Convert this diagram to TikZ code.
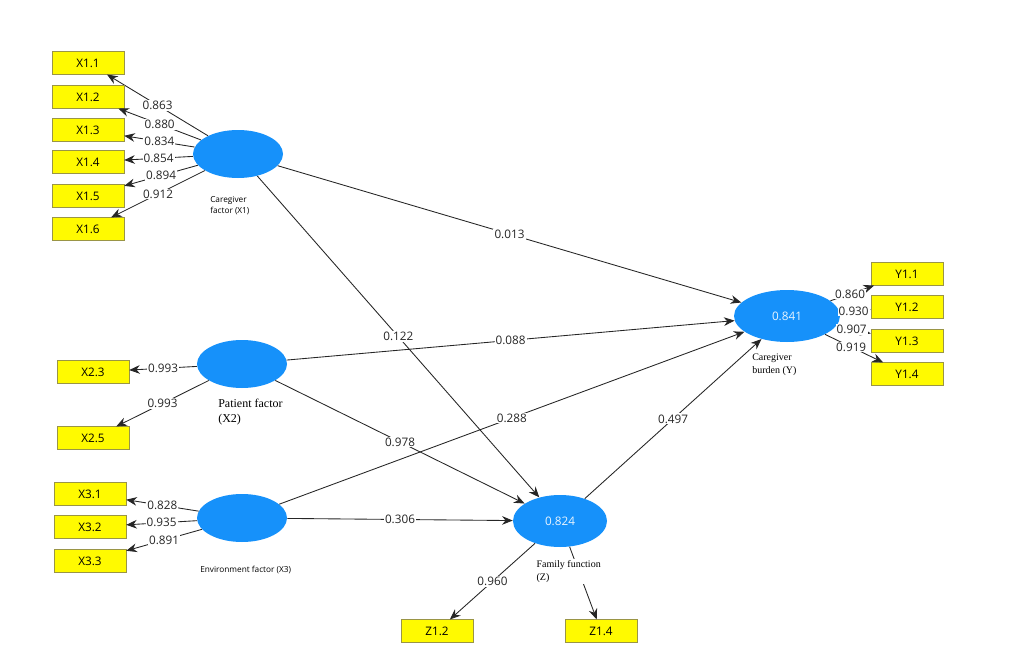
\documentclass[tikz,border=0pt]{standalone}
\usepackage{fontspec}
\setmainfont{Open Sans}
\newfontfamily\tnr{Liberation Serif}
\usepackage{xcolor}
\usetikzlibrary{shapes.geometric, positioning, arrows.meta}
\definecolor{latblue}{RGB}{22,145,250}
\definecolor{indyellow}{RGB}{255,250,0}

\begin{document}
\begin{tikzpicture}[x=0.75pt,y=-0.75pt,>={Stealth[length=8pt,width=6.5pt]},
    ind/.style={draw=yellow!55!black,line width=0.3pt,fill=indyellow,minimum width=54pt,minimum height=17pt,inner sep=0pt,font=\fontsize{8.8}{10}\selectfont},
    lat/.style={ellipse,fill=latblue,inner sep=0pt,minimum width=67.5pt,minimum height=36pt,text=white!90!latblue,font=\fontsize{8.8}{10}\selectfont},
    wt/.style={fill=white,inner sep=0.8pt,text=black!85,font=\fontsize{8.8}{10}\selectfont},
    link/.style={->,draw=black!85,line width=0.65pt},
    latname/.style={inner sep=0pt,anchor=north west,align=left}]
    \useasboundingbox (0,0) rectangle (1017,660);

    % latent variables
    \node[lat] (x1) at (238,154) {};
    \node[lat] (x2) at (242,364) {};
    \node[lat] (x3) at (242,518) {};
    \node[lat,minimum width=79.5pt,minimum height=39pt] (y) at (787,316) {0.841};
    \node[lat,minimum width=70.5pt,minimum height=39pt] (z) at (560,521) {0.824};

    % indicators
    \foreach \i/\yy/\w in {1/63/0.863, 2/97/0.880, 3/130/0.834, 4/162/0.854, 5/196/0.894, 6/229/0.912} {
        \node[ind] (x1\i) at (88,\yy) {X1.\i};
        \draw[link] (x1) -- node[wt] {\w} (x1\i);
    }
    \foreach \i/\yy/\w in {3/372/0.993, 5/438/0.993} {
        \node[ind] (x2\i) at (93,\yy) {X2.\i};
        \draw[link] (x2) -- node[wt] {\w} (x2\i);
    }
    \foreach \i/\yy/\w in {1/494/0.828, 2/527/0.935, 3/561/0.891} {
        \node[ind] (x3\i) at (90,\yy) {X3.\i};
        \draw[link] (x3) -- node[wt] {\w} (x3\i);
    }
    \foreach \i/\yy/\w in {1/274/0.860, 2/307/0.930, 3/341/0.907, 4/374/0.919} {
        \node[ind] (y\i) at (907,\yy) {Y1.\i};
        \draw[link] (y) -- node[wt,pos=0.45] {\w} (y\i);
    }
    \node[ind] (z2) at (437,631) {Z1.2};
    \node[ind] (z4) at (601,631) {Z1.4};
    \draw[link] (z) -- node[wt] {0.960} (z2);
    \draw[link] (z) -- (z4);

    % paths
    \draw[link] (x1) -- node[wt] {0.013} (y);
    \draw[link] (x1) -- node[wt] {0.122} (z);
    \draw[link] (x2) -- node[wt] {0.088} (y);
    \draw[link] (x2) -- node[wt] {0.978} (z);
    \draw[link] (x3) -- node[wt] {0.288} (y);
    \draw[link] (x3) -- node[wt] {0.306} (z);
    \draw[link] (z) -- node[wt] {0.497} (y);

    % names
    \node[latname,font=\fontsize{6.2}{8}\selectfont] (x1n) at (210,196) {Caregiver\\factor (X1)};
    \node[latname,font=\tnr\fontsize{9}{11}\selectfont] (x2n) at (218,399) {Patient factor\\(X2)};
    \node[latname,font=\fontsize{6.2}{8}\selectfont] (x3n) at (200,566) {Environment factor (X3)};
    \node[latname,fill=white,font=\tnr\fontsize{7.5}{9.5}\selectfont] (yn) at (752,354) {Caregiver\\burden (Y)};
    \node[latname,fill=white,inner sep=1pt,font=\tnr\fontsize{7.5}{9.5}\selectfont] (zn) at (535,559) {Family function\\(Z)};
\end{tikzpicture}
\end{document}
